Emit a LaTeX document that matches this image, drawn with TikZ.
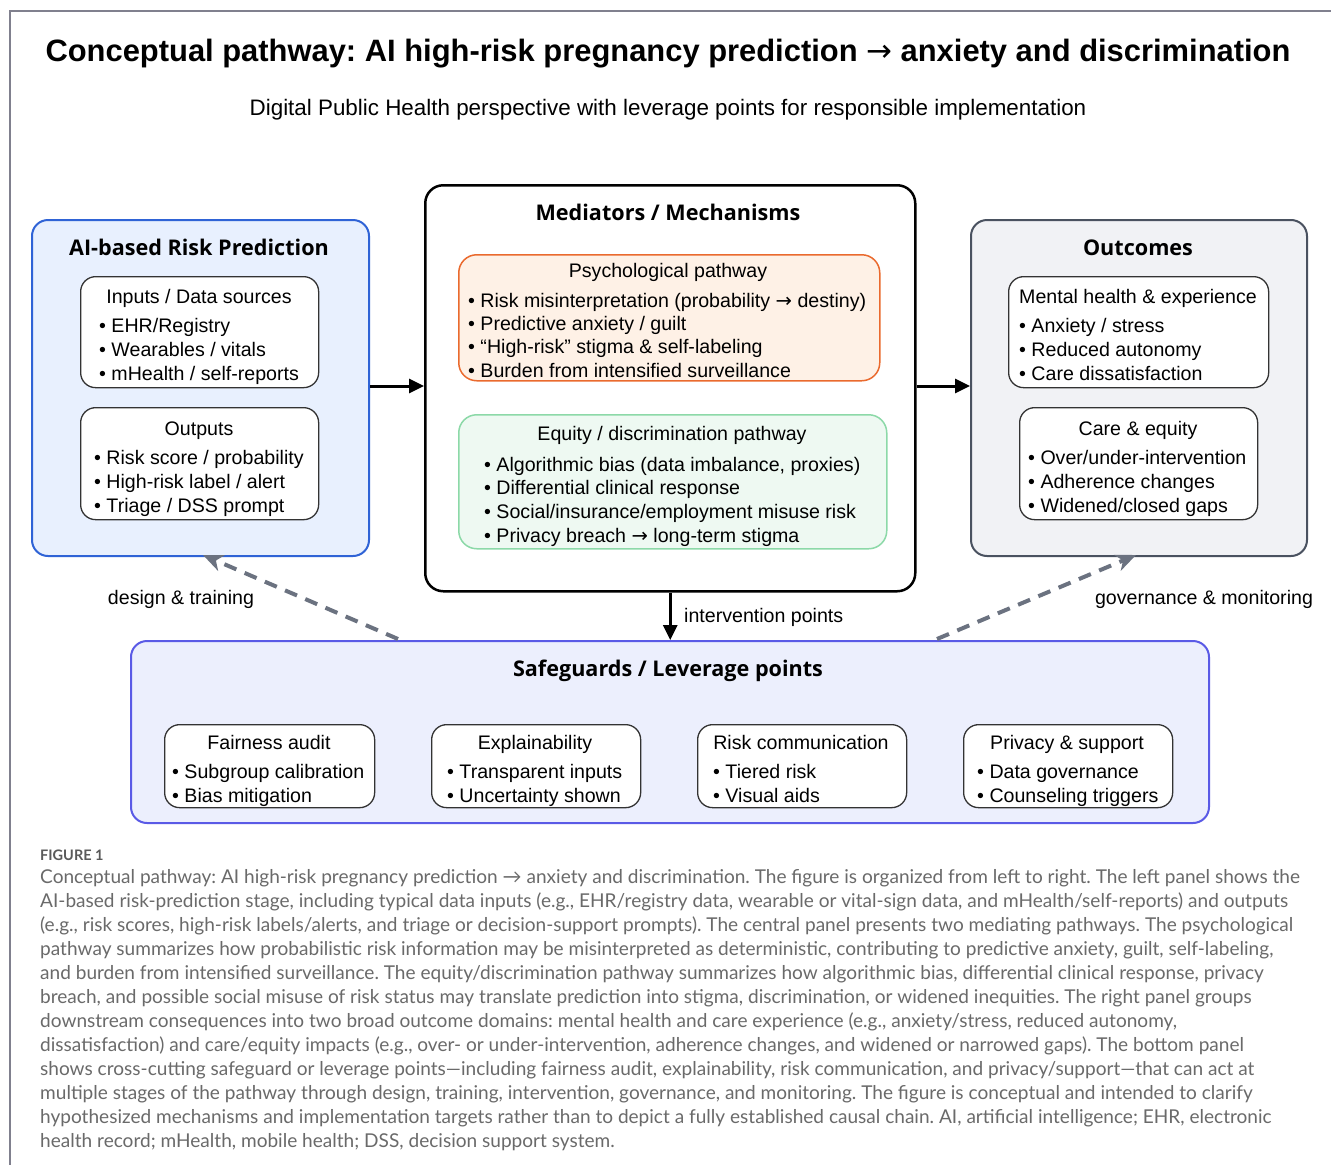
\documentclass[tikz,border=0pt]{standalone}
\usepackage{fontspec}
\setmainfont{Liberation Sans}
\newfontfamily\hfont{Open Sans}
\newfontfamily\capfont{Lato}
\newfontfamily\arrfont{DejaVu Sans}
\newcommand\rarr{{\arrfont\mdseries →}}
\frenchspacing
\usetikzlibrary{arrows.meta}
\definecolor{leftfill}{HTML}{E8F0FE}
\definecolor{leftdraw}{HTML}{2F63D6}
\definecolor{psyfill}{HTML}{FEF1E6}
\definecolor{psydraw}{HTML}{EA6A2E}
\definecolor{eqfill}{HTML}{EEF9F2}
\definecolor{eqdraw}{HTML}{8CD9A8}
\definecolor{outfill}{HTML}{F1F2F5}
\definecolor{outdraw}{HTML}{4A5260}
\definecolor{safefill}{HTML}{ECEFFD}
\definecolor{safedraw}{HTML}{5A5AE6}
\definecolor{dashcol}{HTML}{6B7280}
\definecolor{framecol}{HTML}{80808E}
\definecolor{capcol}{HTML}{6A6A6A}
\tikzset{
  box/.style={anchor=north west, inner sep=0pt, rounded corners=16pt},
  panel/.style={box, line width=2pt},
  subbox/.style={box, draw=black!80, fill=white, line width=1.3pt, rounded corners=15pt},
  head/.style={font=\hfont\bfseries\fontsize{21.6}{25}\selectfont, anchor=base, inner sep=0pt},
  sub/.style={font=\fontsize{19.6}{23}\selectfont, anchor=base, inner sep=0pt},
  bul/.style={font=\fontsize{19.6}{23}\selectfont, anchor=base west, inner sep=0pt},
  captext/.style={font=\capfont\fontsize{19.05}{24}\selectfont, text=capcol, anchor=base west, inner sep=0pt},
  solidarrow/.style={line width=3pt, -{Triangle[length=15pt,width=14pt]}},
  dasharrow/.style={line width=4pt, draw=dashcol, dash pattern=on 13pt off 9pt, -{Stealth[length=20pt,width=17pt,inset=6pt]}},
}
\begin{document}
\begin{tikzpicture}[x=1pt,y=-1pt]
\useasboundingbox (0,0) rectangle (1331,1165);
\fill[white] (0,0) rectangle (1331,1165);
\draw[framecol, line width=1.3pt] (1331,11) -- (10,11) -- (10,1165);

% title
\node[font=\bfseries\fontsize{30.9}{36}\selectfont, anchor=base, inner sep=0pt] (title) at (668,61) {Conceptual pathway: AI high-risk pregnancy prediction \rarr\ anxiety and discrimination};
\node[font=\fontsize{22.4}{27}\selectfont, anchor=base, inner sep=0pt] (subtitle) at (668,115) {Digital Public Health perspective with leverage points for responsible implementation};

% left panel
\node[panel, draw=leftdraw, fill=leftfill, minimum width=337pt, minimum height=336pt] (left) at (31,219) {};
\node[head] (lefth) at (199,255) {AI-based Risk Prediction};
\node[subbox, minimum width=238pt, minimum height=111pt] (inputs) at (80,276) {};
\node[sub] (inputsh) at (199,303) {Inputs / Data sources};
\node[bul] (in1) at (99,332) {• EHR/Registry};
\node[bul] (in2) at (99,356) {• Wearables / vitals};
\node[bul] (in3) at (99,380) {• mHealth / self-reports};
\node[subbox, minimum width=238pt, minimum height=112pt] (outputs) at (80,407) {};
\node[sub] (outputsh) at (199,435) {Outputs};
\node[bul] (ou1) at (94,464) {• Risk score / probability};
\node[bul] (ou2) at (94,488) {• High-risk label / alert};
\node[bul] (ou3) at (94,512) {• Triage / DSS prompt};

% centre panel
\node[panel, draw=black, fill=white, line width=2.5pt, rounded corners=18pt, minimum width=490pt, minimum height=406pt] (mid) at (424,184) {};
\node[head] (midh) at (668,220) {Mediators / Mechanisms};
\node[box, draw=psydraw, fill=psyfill, line width=1.5pt, rounded corners=18pt, minimum width=421pt, minimum height=126pt] (psy) at (458,254) {};
\node[sub] (psyh) at (668,277) {Psychological pathway};
\node[bul] (ps1) at (468,307) {• Risk misinterpretation (probability \rarr\ destiny)};
\node[bul] (ps2) at (468,330) {• Predictive anxiety / guilt};
\node[bul] (ps3) at (468,353) {• “High-risk” stigma \& self-labeling};
\node[bul] (ps4) at (468,377) {• Burden from intensified surveillance};
\node[box, draw=eqdraw, fill=eqfill, line width=1.5pt, rounded corners=18pt, minimum width=428pt, minimum height=134pt] (eq) at (458,414) {};
\node[sub] (eqh) at (672,440) {Equity / discrimination pathway};
\node[bul] (eq1) at (484,471) {• Algorithmic bias (data imbalance, proxies)};
\node[bul] (eq2) at (484,494) {• Differential clinical response};
\node[bul] (eq3) at (484,518) {• Social/insurance/employment misuse risk};
\node[bul] (eq4) at (484,542) {• Privacy breach \rarr\ long-term stigma};

% right panel
\node[panel, draw=outdraw, fill=outfill, minimum width=336pt, minimum height=336pt] (right) at (970,219) {};
\node[head] (righth) at (1138,255) {Outcomes};
\node[subbox, minimum width=260pt, minimum height=111pt] (mental) at (1008,276) {};
\node[sub] (mentalh) at (1138,303) {Mental health \& experience};
\node[bul] (me1) at (1019,332) {• Anxiety / stress};
\node[bul] (me2) at (1019,356) {• Reduced autonomy};
\node[bul] (me3) at (1019,380) {• Care dissatisfaction};
\node[subbox, minimum width=238pt, minimum height=112pt] (care) at (1019,407) {};
\node[sub] (careh) at (1138,435) {Care \& equity};
\node[bul] (ca1) at (1028,464) {• Over/under-intervention};
\node[bul] (ca2) at (1028,488) {• Adherence changes};
\node[bul] (ca3) at (1028,512) {• Widened/closed gaps};

% bottom panel
\node[panel, draw=safedraw, fill=safefill, minimum width=1078pt, minimum height=182pt] (safe) at (130,640) {};
\node[head] (safeh) at (668,676) {Safeguards / Leverage points};
\node[subbox, minimum width=210pt, minimum height=83pt] (fair) at (164,724) {};
\node[sub] (fairh) at (269,749) {Fairness audit};
\node[bul] (fa1) at (172,778) {• Subgroup calibration};
\node[bul] (fa2) at (172,802) {• Bias mitigation};
\node[subbox, minimum width=209pt, minimum height=83pt] (expl) at (431,724) {};
\node[sub] (explh) at (535,749) {Explainability};
\node[bul] (ex1) at (447,778) {• Transparent inputs};
\node[bul] (ex2) at (447,802) {• Uncertainty shown};
\node[subbox, minimum width=209pt, minimum height=83pt] (riskc) at (697,724) {};
\node[sub] (riskch) at (801,749) {Risk communication};
\node[bul] (rc1) at (713,778) {• Tiered risk};
\node[bul] (rc2) at (713,802) {• Visual aids};
\node[subbox, minimum width=209pt, minimum height=83pt] (priv) at (963,724) {};
\node[sub] (privh) at (1067,749) {Privacy \& support};
\node[bul] (pr1) at (977,778) {• Data governance};
\node[bul] (pr2) at (977,802) {• Counseling triggers};

% connectors
\draw[solidarrow] (left.east |- 0,386) -- (mid.west |- 0,386);
\draw[solidarrow] (mid.east |- 0,386) -- (right.west |- 0,386);
\draw[solidarrow] (mid.south) -- (safe.north -| mid.south);
\node[font=\fontsize{19.6}{23}\selectfont, anchor=base west, inner sep=0pt] (intlab) at (684,622) {intervention points};

\coordinate (dstart) at (398,639);
\coordinate (dend) at (203,555);
\draw[dasharrow] (dstart) -- (dend);
\node[font=\fontsize{19.6}{23}\selectfont, anchor=base, inner sep=0pt] (deslab) at (181,604) {design \& training};
\coordinate (gstart) at (937,639);
\coordinate (gend) at (1136,555);
\draw[dasharrow] (gstart) -- (gend);
\node[font=\fontsize{19.6}{23}\selectfont, anchor=base, inner sep=0pt] (govlab) at (1204,604) {governance \& monitoring};

% caption
\node[font=\capfont\bfseries\fontsize{14.5}{17}\selectfont, text=capcol!85!black, anchor=base west, inner sep=0pt] (fig) at (40,860) {FIGURE 1};
\node[captext] (c1) at (40,883) {Conceptual pathway: AI high-risk pregnancy prediction → anxiety and discrimination. The figure is organized from left to right. The left panel shows the};
\node[captext] (c2) at (40,907) {AI-based risk-prediction stage, including typical data inputs (e.g., EHR/registry data, wearable or vital-sign data, and mHealth/self-reports) and outputs};
\node[captext] (c3) at (40,931) {(e.g., risk scores, high-risk labels/alerts, and triage or decision-support prompts). The central panel presents two mediating pathways. The psychological};
\node[captext] (c4) at (40,955) {pathway summarizes how probabilistic risk information may be misinterpreted as deterministic, contributing to predictive anxiety, guilt, self-labeling,};
\node[captext] (c5) at (40,979) {and burden from intensified surveillance. The equity/discrimination pathway summarizes how algorithmic bias, differential clinical response, privacy};
\node[captext] (c6) at (40,1003) {breach, and possible social misuse of risk status may translate prediction into stigma, discrimination, or widened inequities. The right panel groups};
\node[captext] (c7) at (40,1027) {downstream consequences into two broad outcome domains: mental health and care experience (e.g., anxiety/stress, reduced autonomy,};
\node[captext] (c8) at (40,1051) {dissatisfaction) and care/equity impacts (e.g., over- or under-intervention, adherence changes, and widened or narrowed gaps). The bottom panel};
\node[captext] (c9) at (40,1075) {shows cross-cutting safeguard or leverage points—including fairness audit, explainability, risk communication, and privacy/support—that can act at};
\node[captext] (c10) at (40,1099) {multiple stages of the pathway through design, training, intervention, governance, and monitoring. The figure is conceptual and intended to clarify};
\node[captext] (c11) at (40,1123) {hypothesized mechanisms and implementation targets rather than to depict a fully established causal chain. AI, artificial intelligence; EHR, electronic};
\node[captext] (c12) at (40,1147) {health record; mHealth, mobile health; DSS, decision support system.};
\end{tikzpicture}
\end{document}
